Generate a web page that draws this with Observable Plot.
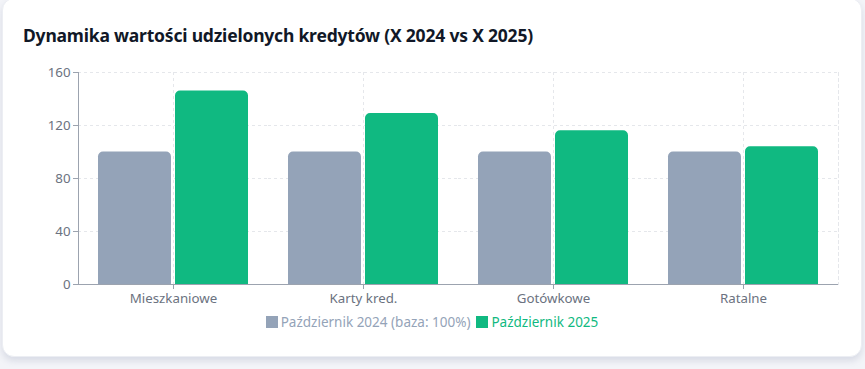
<!DOCTYPE html>
<html><head><meta charset="utf-8">
<script src="https://cdn.jsdelivr.net/npm/d3@7"></script>
<script src="https://cdn.jsdelivr.net/npm/@observablehq/plot@0.6"></script>
<style>
html,body{margin:0;padding:0;background:#f3f4f8;width:865px;height:369px;overflow:hidden;font-family:"Noto Sans",sans-serif;}
#card{position:absolute;left:2px;top:-2px;width:860px;height:359px;background:#fff;border-radius:12px;border:1px solid #eceef3;box-sizing:border-box;box-shadow:0 4px 6px rgba(100,110,150,0.18);}
#title{position:absolute;left:20px;top:24px;font-size:17.5px;font-weight:700;color:#111827;font-family:"Noto Sans",sans-serif;letter-spacing:-0.2px;}
#chart{position:absolute;left:2px;top:57px;}
#legend{position:absolute;left:0;width:858px;top:314px;text-align:center;font-size:13.5px;}
#legend span.item{display:inline-flex;align-items:center;margin:0 3px;}
#legend span.sw{display:inline-block;width:12px;height:12px;margin-right:3px;}
</style></head>
<body>
<div id="card">
<div id="title">Dynamika wartości udzielonych kredytów (X 2024 vs X 2025)</div>
<div id="chart"></div>
<div id="legend"></div>
</div>
<script>
const categories = ["Mieszkaniowe", "Karty kred.", "Gotówkowe", "Ratalne"];
const seriesNames = ["Październik 2024 (baza: 100%)", "Październik 2025"];
const values2024 = [100, 100, 100, 100];
const values2025 = [146, 129, 116, 104];
const yTicks = [0, 40, 80, 120, 160];
const colors = ["#94a3b8", "#10b981"];

const data = [];
categories.forEach((c, i) => {
  data.push({category: c, series: seriesNames[0], value: values2024[i]});
  data.push({category: c, series: seriesNames[1], value: values2025[i]});
});

const grid = {stroke: "#e5e7eb", strokeOpacity: 1, strokeDasharray: "3,3"};
const plot = Plot.plot({
  width: 851, height: 256,
  marginLeft: 73, marginRight: 18, marginTop: 16, marginBottom: 28,
  style: {fontFamily: "Noto Sans, sans-serif", fontSize: "13.3px", color: "#6b7280", background: "transparent"},
  fx: {domain: categories, padding: 0, label: null},
  x: {domain: seriesNames, paddingInner: 0.05, paddingOuter: 0.25, axis: null},
  y: {domain: [0, 160], label: null},
  color: {domain: seriesNames, range: colors},
  marks: [
    Plot.gridY(yTicks, {...grid}),
    Plot.gridFx({...grid}),
    Plot.frame({...grid, anchor: "right", facetAnchor: "right"}),
    Plot.barY(data, {fx: "category", x: "series", y: "value", fill: "series", rx1y1: 5, rx2y1: 5}),
    Plot.axisY(yTicks, {tickSize: 5, stroke: "#9ca3af", fill: "#6b7280", tickPadding: 3, label: null}),
    Plot.frame({stroke: "#9ca3af", strokeOpacity: 1, strokeWidth: 1, anchor: "left", facetAnchor: "left"}),
    Plot.axisFx({anchor: "bottom", tickSize: 5, stroke: "#9ca3af", text: null, label: null}),
    Plot.axisFx({anchor: "bottom", tickSize: 5, tickPadding: 4, fill: "#6b7280", label: null, strokeOpacity: 0}),
    Plot.ruleY([0], {stroke: "#9ca3af"})
  ]
});
document.getElementById("chart").appendChild(plot);

const lg = document.getElementById("legend");
seriesNames.forEach((s, i) => {
  const it = document.createElement("span");
  it.className = "item";
  it.style.color = colors[i];
  const sw = document.createElement("span");
  sw.className = "sw";
  sw.style.background = colors[i];
  it.appendChild(sw);
  it.appendChild(document.createTextNode(s));
  lg.appendChild(it);
});
</script>
</body></html>
